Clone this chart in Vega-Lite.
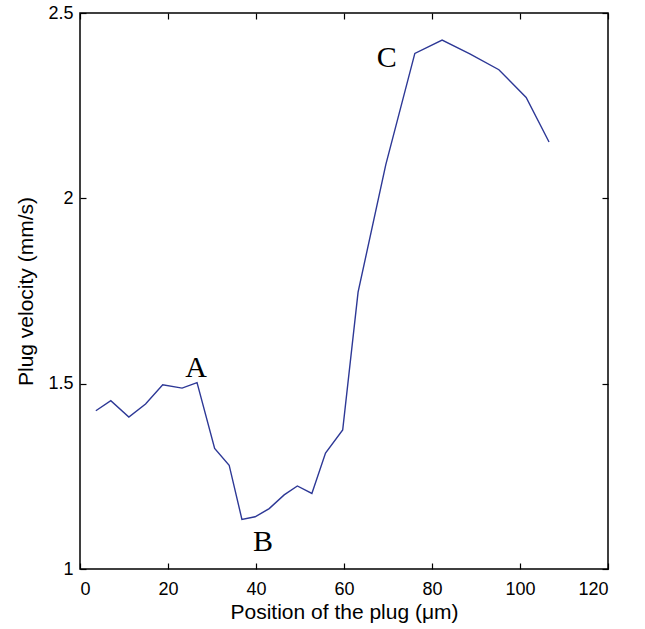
{
  "$schema": "https://vega.github.io/schema/vega-lite/v6.json",
  "autosize": {"type": "none"},
  "width": 528,
  "height": 556,
  "padding": {"left": 80, "top": 13, "right": 37, "bottom": 60},
  "background": "white",
  "config": {
    "view": {"stroke": "black", "strokeWidth": 1.5},
    "axis": {"grid": false, "domain": false, "tickColor": "black", "tickSize": -6, "tickWidth": 1.2, "labelColor": "black", "titleColor": "black", "labelFont": "Liberation Sans", "titleFont": "Liberation Sans", "labelFontSize": 18, "titleFontSize": 21, "titleFontWeight": "normal"}
  },
  "datasets": {
    "curve": [
      {"pos": 3.6, "vel": 1.427},
      {"pos": 7.0, "vel": 1.454},
      {"pos": 11.1, "vel": 1.410},
      {"pos": 14.9, "vel": 1.445},
      {"pos": 18.8, "vel": 1.497},
      {"pos": 23.2, "vel": 1.488},
      {"pos": 26.6, "vel": 1.503},
      {"pos": 30.6, "vel": 1.325},
      {"pos": 33.9, "vel": 1.280},
      {"pos": 36.8, "vel": 1.134},
      {"pos": 39.8, "vel": 1.141},
      {"pos": 43.0, "vel": 1.163},
      {"pos": 46.4, "vel": 1.200},
      {"pos": 49.4, "vel": 1.224},
      {"pos": 52.7, "vel": 1.204},
      {"pos": 55.8, "vel": 1.313},
      {"pos": 59.7, "vel": 1.375},
      {"pos": 63.2, "vel": 1.747},
      {"pos": 69.5, "vel": 2.091},
      {"pos": 76.1, "vel": 2.391},
      {"pos": 82.3, "vel": 2.427},
      {"pos": 88.6, "vel": 2.390},
      {"pos": 95.2, "vel": 2.347},
      {"pos": 101.4, "vel": 2.272},
      {"pos": 106.6, "vel": 2.152}
    ],
    "labels": [
      {"pos": 26.4, "vel": 1.541, "label": "A"},
      {"pos": 41.6, "vel": 1.072, "label": "B"},
      {"pos": 69.7, "vel": 2.378, "label": "C"}
    ]
  },
  "layer": [
    {
      "data": {"name": "curve"},
      "mark": {"type": "line", "color": "#2d3896", "strokeWidth": 1.4},
      "encoding": {
        "x": {"field": "pos", "type": "quantitative", "scale": {"domain": [0, 120], "nice": false}, "axis": {"orient": "bottom", "values": [0, 20, 40, 60, 80, 100, 120], "title": "Position of the plug (μm)", "labelPadding": 17, "titlePadding": 3}},
        "y": {"field": "vel", "type": "quantitative", "scale": {"domain": [1, 2.5], "nice": false, "zero": false}, "axis": {"orient": "left", "values": [1, 1.5, 2, 2.5], "format": "~g", "title": "Plug velocity (mm/s)", "labelPadding": 13, "titlePadding": 11}}
      }
    },
    {
      "data": {"name": "curve"},
      "mark": {"type": "line", "opacity": 0},
      "encoding": {
        "x": {"field": "pos", "type": "quantitative", "axis": {"orient": "top", "values": [0, 20, 40, 60, 80, 100, 120], "labels": false, "title": null}},
        "y": {"field": "vel", "type": "quantitative", "axis": {"orient": "right", "values": [1, 1.5, 2, 2.5], "labels": false, "title": null}}
      }
    },
    {
      "data": {"name": "labels"},
      "mark": {"type": "text", "font": "Liberation Serif", "fontSize": 30, "color": "black"},
      "encoding": {
        "x": {"field": "pos", "type": "quantitative", "axis": null},
        "y": {"field": "vel", "type": "quantitative", "axis": null},
        "text": {"field": "label"}
      }
    }
  ],
  "resolve": {"axis": {"x": "independent", "y": "independent"}}
}
